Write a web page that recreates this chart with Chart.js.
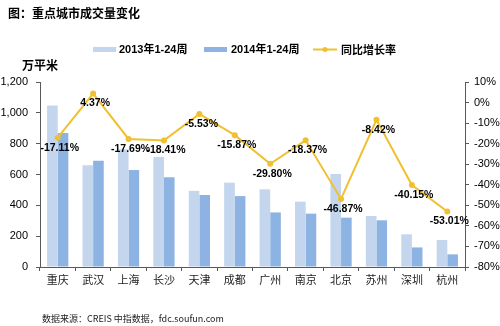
<!DOCTYPE html>
<html>
<head>
<meta charset="utf-8">
<script src="https://cdn.jsdelivr.net/npm/chart.js@4"></script>
<style>
  html, body { margin: 0; padding: 0; background: #fff; }
  #wrap { width: 500px; height: 326px; position: relative; }
</style>
</head>
<body>
<div id="wrap"><canvas id="volumeChart" width="500" height="326"></canvas></div>
<script>
// 城市与数据
const cities = ["重庆", "武汉", "上海", "长沙", "天津", "成都", "广州", "南京", "北京", "苏州", "深圳", "杭州"];
const vol2013 = [1048, 660, 764, 713, 494, 547, 504, 424, 603, 331, 212, 175];
const vol2014 = [869, 689, 629, 582, 467, 460, 354, 346, 320, 303, 127, 82];
const yoyRate = [-17.11, 4.37, -17.69, -18.41, -5.53, -15.87, -29.80, -18.37, -46.87, -8.42, -40.15, -53.01];

const colors = {
    light: "#C3D6EE",
    blue: "#8DB3E2",
    gold: "#F0C030",
    axis: "#595959",
    text: "#000000"
};

const latin = "'Liberation Sans', Arial, sans-serif";
const cjk = "'Noto Sans CJK SC', sans-serif";

// 标题、图例、单位、来源
const decorations = {
    id: "decorations",
    afterDraw(chart) {
        const ctx = chart.ctx;
        ctx.save();
        ctx.fillStyle = colors.text;
        ctx.textBaseline = "middle";
        ctx.textAlign = "left";

        ctx.font = "bold 12px " + cjk;
        ctx.fillText("图：重点城市成交量变化", 8, 13);

        ctx.font = "bold 12px " + cjk;
        ctx.fillText("万平米", 22, 65);

        // legend
        ctx.font = "bold 11px " + latin + ", " + cjk;
        ctx.fillStyle = colors.light;
        ctx.fillRect(93, 47, 23, 5);
        ctx.fillStyle = colors.text;
        ctx.fillText("2013年1-24周", 119, 49.5);

        ctx.fillStyle = colors.blue;
        ctx.fillRect(204, 47, 23, 5);
        ctx.fillStyle = colors.text;
        ctx.fillText("2014年1-24周", 231, 49.5);

        ctx.strokeStyle = colors.gold;
        ctx.lineWidth = 2;
        ctx.beginPath();
        ctx.moveTo(313, 49.5);
        ctx.lineTo(337, 49.5);
        ctx.stroke();
        ctx.fillStyle = colors.gold;
        ctx.beginPath();
        ctx.arc(325, 49.5, 2.5, 0, Math.PI * 2);
        ctx.fill();
        ctx.fillStyle = colors.text;
        ctx.font = "bold 11px " + cjk;
        ctx.fillText("同比增长率", 341, 49.5);

        ctx.font = "9px " + cjk;
        ctx.fillStyle = "#222";
        ctx.fillText("数据来源：CREIS 中指数据，fdc.soufun.com", 42, 319);
        ctx.restore();
    }
};

// 增长率标签
const rateLabels = {
    id: "rateLabels",
    afterDatasetsDraw(chart) {
        const ctx = chart.ctx;
        const meta = chart.getDatasetMeta(2);
        ctx.save();
        ctx.font = "bold 10.5px " + latin;
        ctx.fillStyle = colors.text;
        ctx.textAlign = "center";
        ctx.textBaseline = "middle";
        meta.data.forEach(function (pt, i) {
            ctx.fillText(yoyRate[i].toFixed(2) + "%", pt.x + 2, pt.y + 10);
        });
        ctx.restore();
    }
};

new Chart(document.getElementById("volumeChart"), {
    type: "bar",
    data: {
        labels: cities,
        datasets: [{
            label: "2013年1-24周",
            data: vol2013,
            backgroundColor: colors.light,
            yAxisID: "y",
            order: 1,
            categoryPercentage: 0.6,
            barPercentage: 1.0
        }, {
            label: "2014年1-24周",
            data: vol2014,
            backgroundColor: colors.blue,
            yAxisID: "y",
            order: 1,
            categoryPercentage: 0.6,
            barPercentage: 1.0
        }, {
            type: "line",
            label: "同比增长率",
            data: yoyRate,
            borderColor: colors.gold,
            backgroundColor: colors.gold,
            borderWidth: 2,
            tension: 0,
            pointRadius: 3,
            pointBorderWidth: 0,
            yAxisID: "y1",
            order: 0
        }]
    },
    options: {
        responsive: false,
        animation: false,
        layout: { padding: { top: 82, bottom: 33, left: 0, right: 0 } },
        plugins: {
            legend: { display: false },
            tooltip: { enabled: false }
        },
        scales: {
            x: {
                grid: { display: true, drawOnChartArea: false, offset: true, tickLength: 4, color: colors.axis },
                border: { color: colors.axis },
                ticks: { color: "#222", font: { family: cjk, size: 11 }, padding: 2, maxRotation: 0 },
                afterFit(scale) { scale.height = 26; }
            },
            y: {
                position: "left",
                min: 0,
                max: 1200,
                grid: { drawOnChartArea: false, tickLength: 4, color: colors.axis },
                border: { color: colors.axis },
                ticks: {
                    stepSize: 200,
                    color: colors.text,
                    padding: 8,
                    font: { family: latin, size: 11 },
                    callback: function (v) { return v.toLocaleString("en-US"); }
                },
                afterFit(scale) { scale.width = 40; }
            },
            y1: {
                position: "right",
                min: -80,
                max: 10,
                grid: { drawOnChartArea: false, tickLength: 4, color: colors.axis },
                border: { color: colors.axis },
                ticks: {
                    stepSize: 10,
                    color: colors.text,
                    padding: 5,
                    font: { family: latin, size: 11 },
                    callback: function (v) { return v + "%"; }
                },
                afterFit(scale) { scale.width = 35; }
            }
        }
    },
    plugins: [decorations, rateLabels]
});
</script>
</body>
</html>
